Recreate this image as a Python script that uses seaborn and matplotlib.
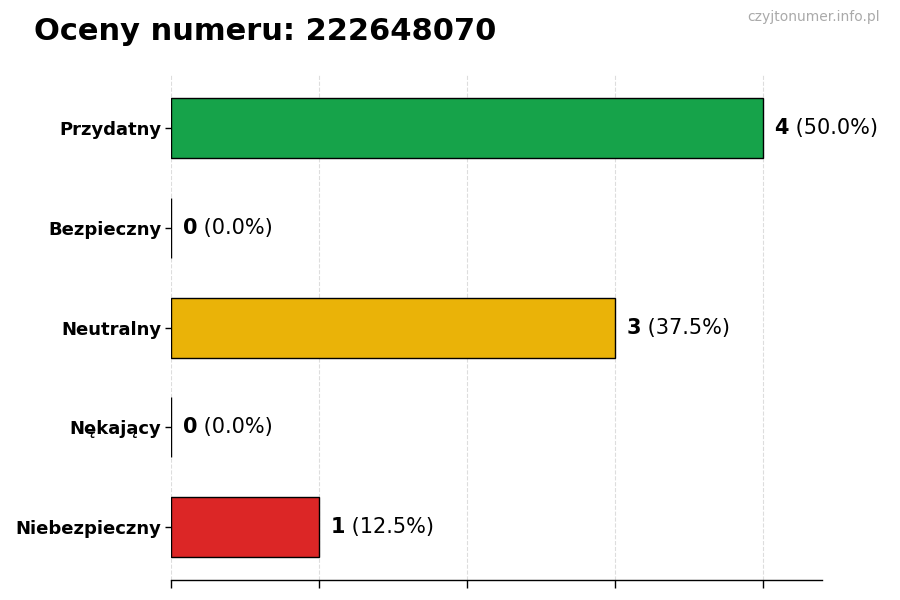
import matplotlib
matplotlib.use("Agg")
import matplotlib.pyplot as plt
import seaborn as sns
import pandas as pd

categories = ["Przydatny", "Bezpieczny", "Neutralny", "Nękający", "Niebezpieczny"]
counts = [4, 0, 3, 0, 1]
colors = ["#16a34a", "#16a34a", "#eab308", "#dc2626", "#dc2626"]
title = "Oceny numeru: 222648070"
watermark = "czyjtonumer.info.pl"

total = sum(counts)
df = pd.DataFrame({"kategoria": categories, "liczba": counts})

sns.set_style("white")
plt.rcParams["font.family"] = ["DejaVu Sans"]
plt.rcParams["text.color"] = "black"
plt.rcParams["xtick.color"] = "black"
plt.rcParams["ytick.color"] = "black"
plt.rcParams["xtick.bottom"] = True
plt.rcParams["ytick.left"] = True

fig = plt.figure(figsize=(9, 6), dpi=100)
ax = fig.add_axes([0.19, 0.033, 0.723, 0.842])

sns.barplot(data=df, y="kategoria", x="liczba", hue="kategoria",
            palette=dict(zip(categories, colors)), orient="h",
            width=0.6, edgecolor="black", linewidth=1.0, saturation=1,
            legend=False, ax=ax, zorder=3)

ax.set_xlim(0, 4.4)
ax.set_ylim(4.53, -0.53)
ax.set_xticks(range(0, 5))
ax.set_xticklabels([])
ax.set_xlabel("")
ax.set_ylabel("")
ax.grid(axis="x", linestyle="--", color="#dddddd", linewidth=0.8, zorder=0)
for s in ["top", "right", "left"]:
    ax.spines[s].set_visible(False)
ax.spines["bottom"].set_linewidth(1.0)
ax.spines["bottom"].set_color("black")
ax.tick_params(axis="x", bottom=True, length=6, width=1, colors="black")
ax.tick_params(axis="y", left=True, length=4, width=1, pad=3, colors="black")
for lab in ax.get_yticklabels():
    lab.set_fontweight("bold")
    lab.set_fontsize(13)

for i, v in enumerate(counts):
    pct = v / total * 100
    t = ax.text(v + 0.08, i, f"{v}", fontsize=15, fontweight="bold",
                va="center", ha="left", color="black")
    ax.annotate(f" ({pct:.1f}%)", xy=(1, 0.5), xycoords=t,
                va="center", ha="left", fontsize=15, color="black")

fig.text(0.038, 0.948, title, fontsize=22, fontweight="bold", va="center", ha="left",
         color="black")
fig.text(0.978, 0.972, watermark, fontsize=10, color="#aaaaaa", va="center", ha="right")

fig.savefig("out.png", dpi=100)
